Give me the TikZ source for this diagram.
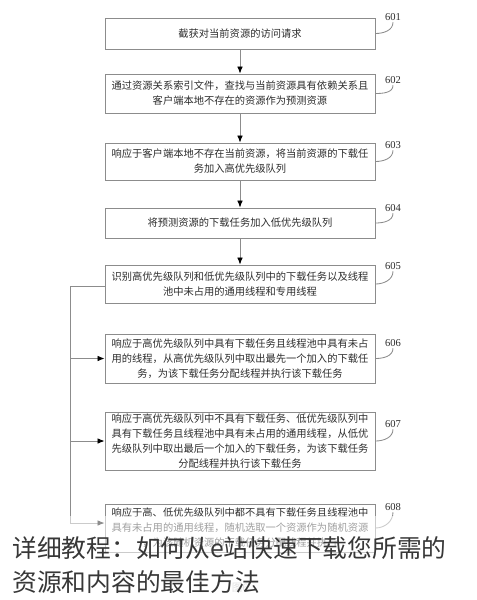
\documentclass[tikz,border=0pt]{standalone}
\usepackage{fontspec}
\newfontfamily\cjk{Noto Sans CJK SC}
\newfontfamily\numfont{Liberation Serif}
\usetikzlibrary{arrows.meta,positioning,calc}
\definecolor{boxgray}{RGB}{140,140,140}
\definecolor{txtgray}{RGB}{45,45,45}
\definecolor{capgray}{RGB}{55,55,55}
\tikzset{
	>={Latex[length=5pt,width=4pt,color=black]},
	stepbox/.style = {
			draw            = boxgray,
			line width      = 0.6pt,
			minimum width   = 6.75cm,
			align           = center,
			inner sep       = 1pt,
			text            = txtgray,
			font            = \cjk\fontsize{7.3}{10.6}\selectfont,
		},
	numlabel/.style = {
			inner sep = 1pt,
			text      = txtgray,
			font      = \numfont\fontsize{7.5}{8}\selectfont,
		},
	flow/.style  = {draw=boxgray, line width=0.6pt},
	hook/.style  = {draw=boxgray, line width=0.6pt, out=0, in=-90},
}

\begin{document}
\begin{tikzpicture}[x=0.025cm, y=-0.025cm]
	\useasboundingbox[fill=white] (0,0) rectangle (477,600);

	% steps
	\node[stepbox, minimum height=0.775cm] (s1) at (240,33.5) {截获对当前资源的访问请求};
	\node[stepbox, minimum height=0.975cm] (s2) at (240,93.5) {通过资源关系索引文件，查找与当前资源具有依赖关系且\\客户端本地不存在的资源作为预测资源};
	\node[stepbox, minimum height=0.925cm] (s3) at (240,161.5) {响应于客户端本地不存在当前资源，将当前资源的下载任\\务加入高优先级队列};
	\node[stepbox, minimum height=0.75cm] (s4) at (240,223) {将预测资源的下载任务加入低优先级队列};
	\node[stepbox, minimum height=0.95cm] (s5) at (240,284) {识别高优先级队列和低优先级队列中的下载任务以及线程\\池中未占用的通用线程和专用线程};
	\node[stepbox, minimum height=1.225cm] (s6) at (240,358.5) {响应于高优先级队列中具有下载任务且线程池中具有未占\\用的线程，从高优先级队列中取出最先一个加入的下载任\\务，为该下载任务分配线程并执行该下载任务};
	\node[stepbox, minimum height=1.45cm] (s7) at (240,441) {响应于高优先级队列中不具有下载任务、低优先级队列中\\具有下载任务且线程池中具有未占用的通用线程，从低优\\先级队列中取出最后一个加入的下载任务，为该下载任务\\分配线程并执行该下载任务};
	\node[stepbox, minimum height=1.2cm] (s8) at (240,528) {响应于高、低优先级队列中都不具有下载任务且线程池中\\具有未占用的通用线程，随机选取一个资源作为随机资源\\，为该随机资源的下载任务分配线程并执行};

	% step numbers
	\node[numlabel] (n1) at (393,17) {601};
	\node[numlabel] (n2) at (393,80) {602};
	\node[numlabel] (n3) at (393,145) {603};
	\node[numlabel] (n4) at (393,208) {604};
	\node[numlabel] (n5) at (393,266) {605};
	\node[numlabel] (n6) at (393,343) {606};
	\node[numlabel] (n7) at (393,424) {607};
	\node[numlabel] (n8) at (393,507) {608};
	\foreach \i in {1,...,8}
		\draw[hook] (s\i.east) to (n\i.south);

	% main flow
	\foreach \a/\b in {s1/s2,s2/s3,s3/s4,s4/s5}
		\draw[flow, ->] (\a) -- (\b);

	% branches from 605
	\coordinate (turn) at (70,286);
	\draw[flow] (s5.west |- turn) -- (turn);
	\draw[flow, ->] (turn) |- (s6.west);
	\draw[flow, ->] (turn) |- (s7.west);
	\draw[flow, ->] (turn) |- ($(s8.west)+(0,-5)$);

	\node[text=gray!50, font=\cjk\fontsize{7.5}{8}\selectfont] (fig) at (240,588) {图6};

	% caption over the figure
	\fill[white, opacity=0.55] (0,516) rectangle (477,600);
	\node[anchor=west, inner sep=0pt, text=capgray, font=\cjk\fontsize{17.6}{20}\selectfont] (cap1) at (12,548) {详细教程：如何从e站快速下载您所需的};
	\node[anchor=west, inner sep=0pt, text=capgray, font=\cjk\fontsize{17.6}{20}\selectfont] (cap2) at (12,582) {资源和内容的最佳方法};
\end{tikzpicture}
\end{document}
